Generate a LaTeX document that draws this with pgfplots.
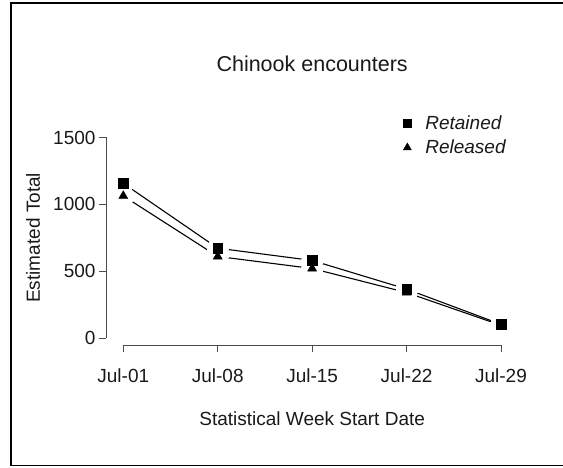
\documentclass[border=0pt]{standalone}
\usepackage{fontspec}
\setmainfont{Liberation Sans}
\usepackage{pgfplots}
\usepackage{pgfplotstable}
\pgfplotsset{compat=1.18}
\pgfplotsset{
  sqleg/.style={legend image code/.code={\path[draw=none,fill=none] (0pt,0pt) -- (16pt,0pt); \draw[mark repeat=2,mark phase=2,##1,mark size=4pt] plot coordinates {(-2pt,0pt)(0pt,0pt)(2pt,0pt)};}},
  trleg/.style={legend image code/.code={\path[draw=none,fill=none] (0pt,0pt) -- (16pt,0pt); \draw[mark repeat=2,mark phase=2,##1,mark size=4.6pt] plot coordinates {(-2pt,0pt)(0pt,0pt)(2pt,0pt)};}},
}
\pgfplotstableread{
x ret rel
0 1157 1063
1 672 610
2 580 520
3 366 340
4 102 95
}\datatable
\begin{document}
\begin{tikzpicture}[x=1pt,y=1pt]
\useasboundingbox (0,0) rectangle (563,468);
\draw[line width=1.5pt] (563,2.3) -- (11,2.3) -- (11,465.2) -- (563,465.2);
\begin{axis}[
  at={(123.3pt,130pt)}, anchor=south west,
  scale only axis, width=377.7pt, height=200.5pt,
  xmin=0, xmax=4, ymin=0, ymax=1500, clip=false,
  axis x line*=bottom, axis y line*=left,
  axis x line shift=7.5pt, axis y line shift=17.3pt,
  axis line style={draw=black!70, line width=0.9pt, -},
  tick style={draw=black!70, line width=0.9pt},
  tick align=outside, major tick length=7pt,
  xtick={0,1,2,3,4}, xticklabels={Jul-01,Jul-08,Jul-15,Jul-22,Jul-29},
  ytick={0,500,1000,1500},
  /pgf/number format/assume math mode=true,
  /pgf/number format/1000 sep={},
  ticklabel style={font=\fontsize{19}{23}\selectfont, text=black!90},
  xticklabel style={yshift=-13pt},
  title={Chinook encounters},
  title style={at={(axis description cs:0.5,1.337)}, anchor=center, font=\fontsize{21.5}{26}\selectfont, text=black!90},
  xlabel={Statistical Week Start Date},
  xlabel style={at={(axis description cs:0.5,-0.405)}, anchor=center, font=\fontsize{19}{23}\selectfont, text=black!90},
  ylabel={Estimated Total},
  ylabel style={at={(axis description cs:-0.239,0.5)}, anchor=center, font=\fontsize{19}{23}\selectfont, text=black!90},
  legend style={draw=none, fill=none, at={(axis description cs:0.733,1.13)}, anchor=north west,
    font=\fontsize{19}{23}\selectfont\itshape, text=black!90, row sep=5pt},
  legend cell align=left,
]
\addplot[black, line width=1.1pt, forget plot] table[x=x, y=ret] {\datatable};
\addplot[black, line width=1.1pt, forget plot] table[x=x, y=rel] {\datatable};
\addplot[white, only marks, mark=*, mark size=10.5pt, mark options={fill=white, draw=white, line width=0pt}, forget plot] table[x=x, y=ret] {\datatable};
\addplot[white, only marks, mark=*, mark size=10.5pt, mark options={fill=white, draw=white, line width=0pt}, forget plot] table[x=x, y=rel] {\datatable};
\addplot[only marks, mark=square*, mark size=4.8pt, black, sqleg] table[x=x, y=ret] {\datatable};
\addlegendentry{Retained}
\addplot[only marks, mark=triangle*, mark size=5.2pt, black, trleg] table[x=x, y=rel] {\datatable};
\addlegendentry{Released}
\end{axis}
\end{tikzpicture}
\end{document}
